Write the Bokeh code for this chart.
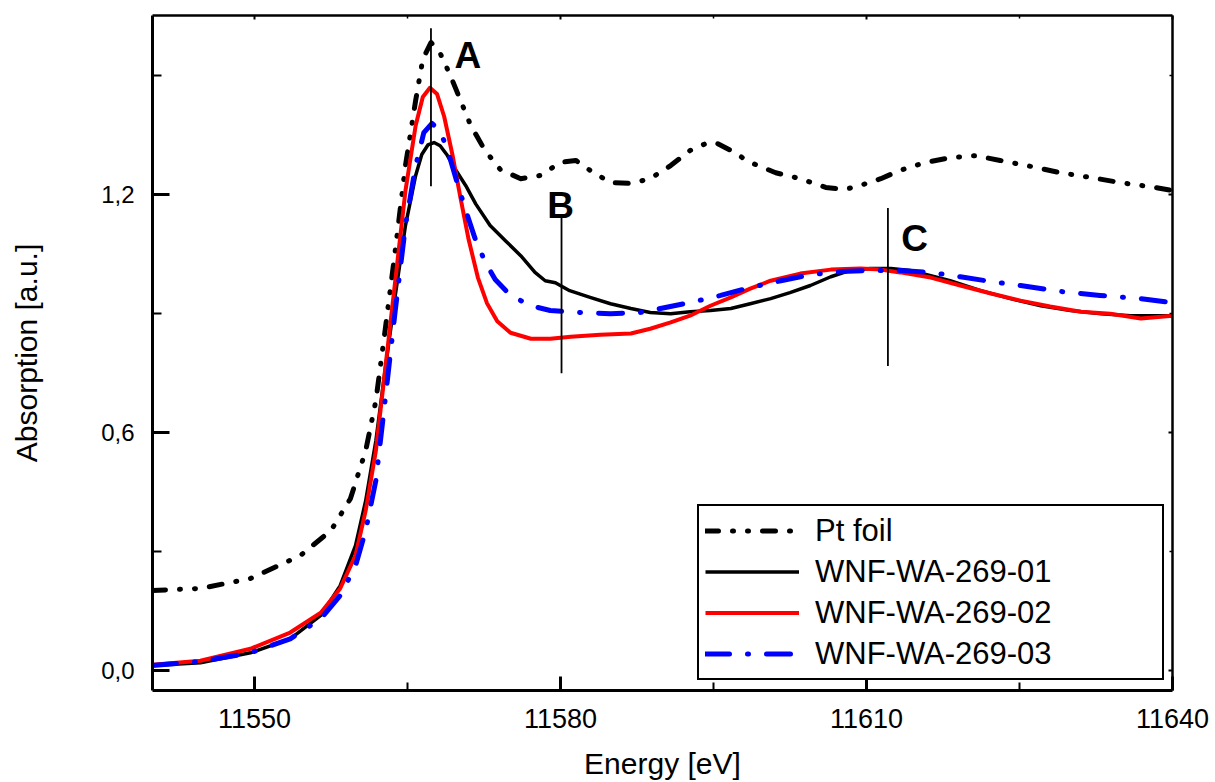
from bokeh.plotting import figure
from bokeh.models import (Range1d, FixedTicker, LinearAxis, Legend, LegendItem,
                          ColumnDataSource, CustomJSTickFormatter)
from bokeh.core.properties import value
from bokeh.embed import file_html
from bokeh.resources import INLINE

# ---------------- data ----------------
pt_energy = [11540.0, 11544.7, 11549.6, 11554.5, 11557.5, 11559.4, 11560.9, 11561.9, 11562.8,
             11563.8, 11564.8, 11565.8, 11566.5, 11567.3, 11568.2, 11569.2, 11570.2, 11571.2,
             11572.6, 11574.1, 11576.1, 11578.0, 11580.0, 11581.5, 11582.9, 11584.9, 11586.9,
             11588.8, 11590.8, 11592.7, 11594.2, 11595.2, 11596.7, 11598.6, 11601.1, 11603.5,
             11606.0, 11607.9, 11609.4, 11611.4, 11613.3, 11615.8, 11618.2, 11620.7, 11623.1,
             11626.1, 11629.0, 11632.0, 11634.9, 11637.8, 11640.0]
pt_abs = [0.202, 0.207, 0.232, 0.290, 0.353, 0.433, 0.554, 0.680, 0.856,
          1.058, 1.272, 1.436, 1.540, 1.582, 1.555, 1.499, 1.436, 1.373,
          1.310, 1.262, 1.239, 1.247, 1.280, 1.285, 1.260, 1.229, 1.227,
          1.239, 1.272, 1.310, 1.327, 1.330, 1.310, 1.280, 1.254, 1.239,
          1.217, 1.212, 1.222, 1.239, 1.260, 1.280, 1.292, 1.297, 1.285,
          1.270, 1.254, 1.242, 1.229, 1.219, 1.209]

s01_energy = [11540.0, 11544.7, 11549.6, 11553.5, 11556.5, 11558.4, 11559.9, 11560.9, 11561.9,
              11562.8, 11563.8, 11564.8, 11565.8, 11566.4, 11567.0, 11567.6, 11568.2, 11568.9,
              11569.7, 11570.7, 11571.7, 11573.1, 11574.6, 11576.1, 11577.5, 11578.5, 11579.5,
              11580.9, 11582.9, 11584.9, 11586.9, 11588.8, 11590.8, 11592.7, 11594.7, 11596.7,
              11598.6, 11600.6, 11602.5, 11604.5, 11606.5, 11608.4, 11610.4, 11612.4, 11614.3,
              11616.3, 11618.2, 11621.2, 11624.1, 11627.1, 11630.0, 11633.0, 11635.9, 11640.0]
s01_abs = [0.013, 0.020, 0.045, 0.080, 0.139, 0.214, 0.315, 0.428, 0.579,
           0.756, 0.945, 1.121, 1.247, 1.300, 1.324, 1.330, 1.322, 1.298,
           1.262, 1.222, 1.175, 1.121, 1.083, 1.045, 1.003, 0.982, 0.977,
           0.957, 0.940, 0.924, 0.912, 0.902, 0.899, 0.904, 0.907, 0.912,
           0.924, 0.937, 0.952, 0.970, 0.992, 1.008, 1.013, 1.013, 1.008,
           0.995, 0.982, 0.957, 0.937, 0.919, 0.907, 0.899, 0.894, 0.894]

s02_energy = [11540.0, 11544.7, 11549.6, 11553.5, 11556.5, 11558.4, 11559.9, 11560.9, 11561.9,
              11562.8, 11563.8, 11564.8, 11565.8, 11566.5, 11567.2, 11567.9, 11568.6, 11569.4,
              11570.2, 11571.0, 11571.9, 11572.8, 11573.8, 11575.1, 11577.1, 11579.0, 11581.0,
              11583.9, 11586.9, 11588.8, 11590.8, 11592.7, 11594.7, 11596.7, 11598.6, 11600.6,
              11603.5, 11606.5, 11609.4, 11611.4, 11613.3, 11616.3, 11619.2, 11622.2, 11625.1,
              11628.0, 11631.0, 11633.9, 11636.9, 11640.0]
s02_abs = [0.015, 0.025, 0.055, 0.096, 0.146, 0.207, 0.290, 0.403, 0.554,
           0.756, 0.982, 1.209, 1.373, 1.445, 1.468, 1.452, 1.395, 1.300,
           1.190, 1.085, 0.990, 0.925, 0.880, 0.851, 0.836, 0.836, 0.841,
           0.846, 0.849, 0.861, 0.877, 0.894, 0.919, 0.940, 0.962, 0.982,
           1.000, 1.010, 1.013, 1.010, 1.003, 0.990, 0.970, 0.950, 0.932,
           0.917, 0.904, 0.899, 0.887, 0.894]

s03_energy = [11540.0, 11544.7, 11549.6, 11553.5, 11556.5, 11558.4, 11559.9, 11560.9, 11561.9,
              11562.8, 11563.8, 11564.8, 11565.8, 11566.6, 11567.4, 11568.2, 11569.0, 11569.8,
              11570.7, 11571.6, 11572.6, 11573.6, 11575.1, 11577.1, 11579.0, 11581.9, 11584.9,
              11587.8, 11589.8, 11592.7, 11595.7, 11598.6, 11601.6, 11604.5, 11607.5, 11610.4,
              11613.3, 11616.3, 11619.2, 11622.2, 11625.1, 11629.0, 11632.9, 11636.9, 11640.0]
s03_abs = [0.013, 0.023, 0.045, 0.080, 0.131, 0.189, 0.264, 0.353, 0.479,
           0.680, 0.907, 1.121, 1.272, 1.355, 1.378, 1.360, 1.305, 1.235,
           1.160, 1.090, 1.030, 0.985, 0.945, 0.919, 0.907, 0.902, 0.899,
           0.902, 0.912, 0.927, 0.945, 0.965, 0.982, 0.997, 1.005, 1.008,
           1.008, 1.003, 0.992, 0.980, 0.970, 0.955, 0.945, 0.937, 0.927]

series_names = ["Pt foil", "WNF-WA-269-01", "WNF-WA-269-02", "WNF-WA-269-03"]

# feature markers A, B, C
marker_names = ["A", "B", "C"]
marker_energy = [11567.3, 11580.1, 11612.1]
marker_low = [1.22, 0.749, 0.767]
marker_high = [1.618, 1.145, 1.165]
marker_text_x = [11569.6, 11578.7, 11613.4]
marker_text_y = [1.549, 1.171, 1.088]

x_ticks = [11550, 11580, 11610, 11640]
x_minor = [11565, 11595, 11625]
y_ticks = [0.0, 0.6, 1.2]
y_minor = [0.3, 0.9, 1.5]

FONT = "Liberation Sans"

# ---------------- figure ----------------
p = figure(width=1215, height=782,
           x_range=Range1d(11540, 11640), y_range=Range1d(-0.05, 1.65),
           output_backend="svg", toolbar_location=None,
           min_border_left=152, min_border_right=43, min_border_top=15, min_border_bottom=92)
p.xgrid.visible = False
p.ygrid.visible = False
p.outline_line_color = None
p.background_fill_color = "white"
p.border_fill_color = "white"

r_pt = p.line(pt_energy, pt_abs, line_color="black", line_width=5,
              line_dash="13 14 1 14 1 14", line_cap="round", line_join="round")
r_01 = p.line(s01_energy, s01_abs, line_color="black", line_width=3.5, line_join="round")
r_02 = p.line(s02_energy, s02_abs, line_color="#ff0000", line_width=4, line_join="round")
r_03 = p.line(s03_energy, s03_abs, line_color="#0000ff", line_width=5,
              line_dash="24 18 1 18", line_cap="round", line_join="round")

# marker lines and letters
msrc = ColumnDataSource(dict(x=marker_energy, y0=marker_low, y1=marker_high,
                             tx=marker_text_x, ty=marker_text_y, t=marker_names))
p.segment(x0="x", y0="y0", x1="x", y1="y1", source=msrc, line_color="black", line_width=1.8)
p.text(x="tx", y="ty", text="t", source=msrc, text_font=value(FONT), text_font_style="bold",
       text_font_size="37px", text_color="black", text_baseline="alphabetic", text_align="left")

# ---------------- axes ----------------
xa = p.xaxis[0]
ya = p.yaxis[0]
xa.ticker = FixedTicker(ticks=x_ticks, minor_ticks=x_minor)
ya.ticker = FixedTicker(ticks=y_ticks, minor_ticks=y_minor)
ya.formatter = CustomJSTickFormatter(code="return tick.toFixed(1).replace('.', ',');")
xa.formatter = CustomJSTickFormatter(code="return tick.toFixed(0);")

for ax in (xa, ya):
    ax.axis_line_width = 3
    ax.axis_line_color = "black"
    ax.major_tick_out = 0
    ax.minor_tick_out = 0
    ax.major_tick_line_width = 3
    ax.minor_tick_line_width = 2
    ax.major_tick_line_color = "black"
    ax.minor_tick_line_color = "black"
    ax.major_label_text_font = FONT
    ax.axis_label_text_font = FONT
    ax.axis_label_text_font_style = "normal"
    ax.major_label_text_color = "black"
    ax.axis_label_text_color = "black"

xa.major_tick_in = 14
xa.minor_tick_in = 8
ya.major_tick_in = 17
ya.minor_tick_in = 9

xa.major_label_text_font_size = "27px"
ya.major_label_text_font_size = "24px"
xa.major_label_standoff = 18
ya.major_label_standoff = 18
xa.axis_label = "Energy [eV]"
ya.axis_label = "Absorption [a.u.]"
xa.axis_label_text_font_size = "30px"
ya.axis_label_text_font_size = "30px"
xa.axis_label_standoff = 16
ya.axis_label_standoff = 55

# mirrored axes (top / right) with small inward ticks, no labels
top = LinearAxis(ticker=FixedTicker(ticks=x_ticks, minor_ticks=x_minor),
                 formatter=CustomJSTickFormatter(code="return '';"))
right = LinearAxis(ticker=FixedTicker(ticks=y_ticks, minor_ticks=y_minor),
                   formatter=CustomJSTickFormatter(code="return '';"))
for ax in (top, right):
    ax.axis_line_width = 2.5
    ax.axis_line_color = "black"
    ax.major_tick_in = 4
    ax.major_tick_out = 0
    ax.minor_tick_in = 3
    ax.minor_tick_out = 0
    ax.major_tick_line_width = 2
    ax.minor_tick_line_width = 1.5
    ax.major_label_text_font_size = "1px"
    ax.major_label_standoff = 0
p.add_layout(top, "above")
p.add_layout(right, "right")

# ---------------- legend ----------------
legend = Legend(items=[LegendItem(label=series_names[0], renderers=[r_pt]),
                       LegendItem(label=series_names[1], renderers=[r_01]),
                       LegendItem(label=series_names[2], renderers=[r_02]),
                       LegendItem(label=series_names[3], renderers=[r_03])],
                location=(545, 10))
legend.label_text_font = FONT
legend.label_text_font_size = "31px"
legend.label_text_color = "black"
legend.glyph_width = 94
legend.glyph_height = 37
legend.label_height = 37
legend.label_width = 341
legend.label_standoff = 16
legend.spacing = 4
legend.padding = 6
legend.margin = 0
legend.border_line_color = "black"
legend.border_line_width = 2
legend.border_line_alpha = 1.0
legend.background_fill_alpha = 1.0
p.add_layout(legend, "center")

open("out.html", "w").write(file_html(p, INLINE))
